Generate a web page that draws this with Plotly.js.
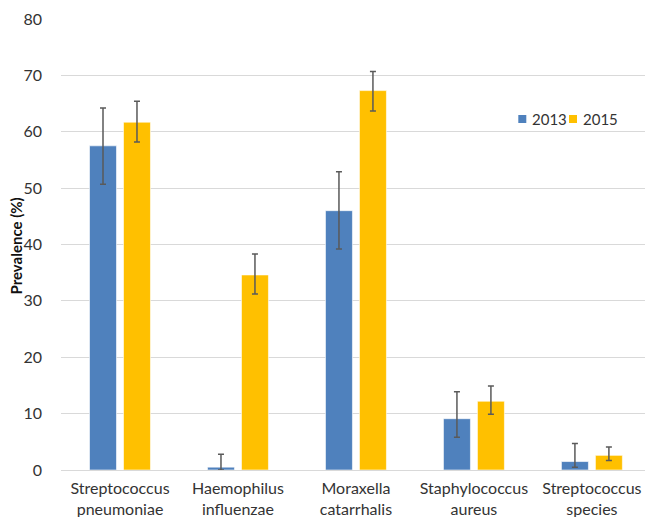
<!DOCTYPE html>
<html>
<head>
<meta charset="utf-8">
<script src="https://cdn.plot.ly/plotly-3.0.1.min.js"></script>
<style>html,body{margin:0;padding:0;background:#fff;overflow:hidden;}#chart{width:645px;height:517px;}</style>
</head>
<body>
<div id="chart"></div>
<script>
var categories = ["Streptococcus<br>pneumoniae", "Haemophilus<br>influenzae", "Moraxella<br>catarrhalis", "Staphylococcus<br>aureus", "Streptococcus<br>species"];
var values2013 = [57.5, 0.5, 46.0, 9.1, 1.5];
var errPlus2013 = [6.7, 2.3, 6.9, 4.8, 3.2];
var errMinus2013 = [6.8, 0.5, 6.8, 3.3, 1.0];
var values2015 = [61.7, 34.6, 67.3, 12.2, 2.6];
var errPlus2015 = [3.7, 3.7, 3.4, 2.7, 1.5];
var errMinus2015 = [3.5, 3.4, 3.6, 2.3, 0.9];
var seriesNames = ["2013", "2015"];
var seriesColors = ["#4f81bd", "#ffc000"];
var yTicks = [0, 10, 20, 30, 40, 50, 60, 70, 80];
var yTitle = "Prevalence (%)";

var W = 645, H = 517, ML = 61, MR = 0, MT = 19, MB = 47;
var PW = W - ML - MR, PH = H - MT - MB;
function px2x(p) { return (p - ML) / PW; }
function px2y(p) { return 1 - (p - MT) / PH; }

var font = "Lato, 'Open Sans', sans-serif";
var errStyle = {type: "data", symmetric: false, color: "#5a5a5a", thickness: 1.5, width: 3};

var traces = [
  {type: "bar", name: seriesNames[0], x: categories, y: values2013,
   marker: {color: seriesColors[0], line: {color: "#ffffff", width: 0.6}},
   error_y: Object.assign({array: errPlus2013, arrayminus: errMinus2013}, errStyle)},
  {type: "bar", name: seriesNames[1], x: categories, y: values2015,
   marker: {color: seriesColors[1], line: {color: "#ffffff", width: 0.6}},
   error_y: Object.assign({array: errPlus2015, arrayminus: errMinus2015}, errStyle)}
];

// custom legend (small squares close to the text, as in the reference)
var legendSquares = [518.3, 569];
var legendTexts = [531, 581.7];
var legendY = 119;
var shapes = [], annotations = [];
for (var i = 0; i < seriesNames.length; i++) {
  shapes.push({type: "rect", xref: "paper", yref: "paper",
    x0: px2x(legendSquares[i]), x1: px2x(legendSquares[i] + 8),
    y0: px2y(legendY - 4), y1: px2y(legendY + 4),
    fillcolor: seriesColors[i], line: {width: 0}});
  annotations.push({xref: "paper", yref: "paper", x: px2x(legendTexts[i]), y: px2y(legendY),
    xanchor: "left", yanchor: "middle", text: seriesNames[i], showarrow: false, borderpad: 0,
    font: {family: font, size: 15, color: "#333333"}});
}
annotations.push({xref: "paper", yref: "paper", x: px2x(16), y: px2y(246.5),
  xanchor: "center", yanchor: "middle", textangle: -90, text: "<b>" + yTitle + "</b>",
  showarrow: false, borderpad: 0, font: {family: font, size: 15, color: "#111111"}});

var layout = {
  width: W, height: H,
  margin: {l: ML, r: MR, t: MT, b: MB, autoexpand: false},
  paper_bgcolor: "#ffffff", plot_bgcolor: "#ffffff",
  font: {family: font, size: 16, color: "#333333"},
  barmode: "group", bargap: 0.424, bargroupgap: 0.206,
  showlegend: false,
  shapes: shapes, annotations: annotations,
  xaxis: {type: "category", range: [-0.5, 4.45], showgrid: false, showline: false,
          ticks: "", ticklabelstandoff: 7, tickfont: {family: font, size: 16, color: "#333333"},
          zeroline: false, fixedrange: true, automargin: false},
  yaxis: {range: [0, 80], tickvals: yTicks, ticktext: yTicks.map(String),
          showgrid: true, gridcolor: "#d9d9d9", gridwidth: 1, zeroline: true, zerolinecolor: "#d9d9d9",
          zerolinewidth: 1, showline: false, ticks: "", ticklabelstandoff: 18,
          tickfont: {family: font, size: 16, color: "#333333"},
          automargin: false, fixedrange: true}
};

Plotly.newPlot("chart", traces, layout, {displayModeBar: false, staticPlot: true});
</script>
</body>
</html>
